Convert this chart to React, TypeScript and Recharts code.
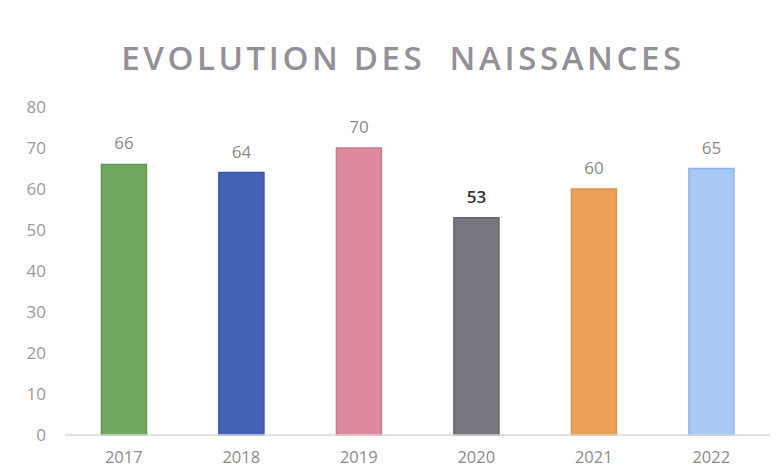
import React from "react";
import { BarChart, Bar, XAxis, YAxis, Cell, LabelList } from "recharts";

const years = ["2017", "2018", "2019", "2020", "2021", "2022"];
const births = [66, 64, 70, 53, 60, 65];
const barColors = ["#70a862", "#4263b8", "#de8a9c", "#75767e", "#eba258", "#a9c9f5"];
const barStrokes = ["#5f9652", "#3654a6", "#c97a8f", "#66676f", "#d8924a", "#8fb3ec"];
const labelColors = ["#8a8a8a", "#8a8a8a", "#8a8a8a", "#333333", "#8a8a8a", "#8a8a8a"];
const yTicks = [0, 10, 20, 30, 40, 50, 60, 70, 80];
const title = "EVOLUTION DES  NAISSANCES";

const data = years.map((y, i) => ({ year: y, value: births[i] }));

const font = "'Open Sans', 'DejaVu Sans', sans-serif";

const renderLabel = (props: any) => {
  const { x, y, width, value, index } = props;
  return (
    <text
      x={x + width / 2}
      y={y - 15}
      textAnchor="middle"
      fill={labelColors[index]}
      fontSize={17}
      fontFamily={font}
      fontWeight={index === 3 ? 600 : 400}
    >
      {value}
    </text>
  );
};

export default function App() {
  return (
    <div style={{ position: "absolute", left: 0, top: 0, width: 783, height: 468, background: "#fff" }}>
      <svg width={783} height={100} style={{ position: "absolute", left: 0, top: 0 }}>
        <text
          x={403}
          y={70}
          textAnchor="middle"
          fill="#939197"
          fontSize={33}
          fontFamily={font}
          fontWeight={600}
          letterSpacing={3.6}
          style={{ whiteSpace: "pre" }}
        >
          {title}
        </text>
      </svg>
      <div style={{ position: "absolute", left: 0, top: 0 }}>
        <BarChart
          width={783}
          height={468}
          data={data}
          margin={{ top: 107, right: 13, left: 0, bottom: 0 }}
          barCategoryGap="31%"
        >
          <XAxis
            dataKey="year"
            height={33}
            tickLine={false}
            tickSize={0}
            tickMargin={16}
            axisLine={{ stroke: "#d9d9d9", strokeWidth: 1.5 }}
            tick={{ fill: "#8c8c8c", fontSize: 16.5, fontFamily: font }}
            interval={0}
          />
          <YAxis
            width={65}
            domain={[0, 80]}
            ticks={yTicks}
            axisLine={false}
            tickLine={false}
            tickSize={0}
            tickMargin={19}
            tick={{ fill: "#9a9a9a", fontSize: 17, fontFamily: font }}
          />
          <Bar dataKey="value" isAnimationActive={false}>
            {data.map((d, i) => (
              <Cell key={d.year} fill={barColors[i]} stroke={barStrokes[i]} strokeWidth={1.5} />
            ))}
            <LabelList dataKey="value" content={renderLabel} />
          </Bar>
        </BarChart>
      </div>
    </div>
  );
}
